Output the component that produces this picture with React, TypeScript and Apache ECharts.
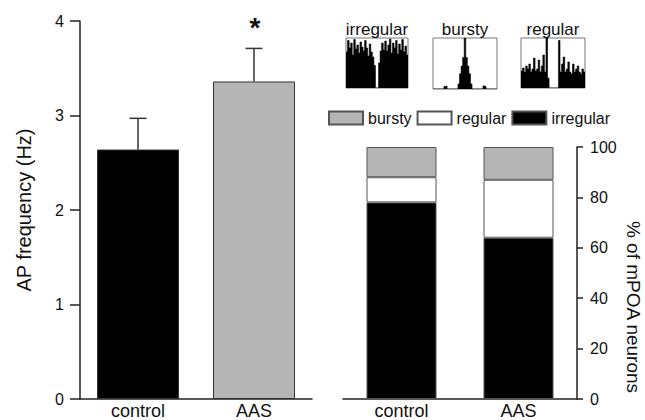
import React, { useEffect, useRef } from "react";
import * as echarts from "echarts";

const groups = ["control", "AAS"];
const apFreqMean = [2.64, 3.36];
const apFreqUpper = [2.97, 3.71];
const leftTickMax = 4;

const pctIrregular = [78, 64];
const pctRegular = [10, 23];
const pctBursty = [12, 13];
const rightTickMax = 100;

const histIrregular = [
  0.72, 0.95, 0.8, 0.9, 0.66, 0.97, 0.78, 0.86, 0.7, 0.92, 0.82, 0.74, 0.95, 0.8,
  0.64, 0.88, 0.72, 0.62, 0.45, 0.0, 0.0, 0.5, 0.74, 0.9, 0.76, 0.94, 0.74, 0.86,
  0.98, 0.7, 0.9, 0.8, 0.95, 0.68, 0.88, 0.76, 0.97, 0.72, 0.84, 0.66,
];
const histBursty = [
  0, 0, 0, 0, 0, 0, 0, 0.05, 0.06, 0, 0, 0, 0, 0, 0, 0, 0.1, 0.3, 0.45, 0.62, 1.0,
  0.62, 0.45, 0.3, 0.1, 0, 0, 0, 0, 0, 0, 0, 0.06, 0.05, 0, 0, 0, 0, 0, 0, 0,
];
const histRegular = [
  0.34, 0.4, 0.32, 0.44, 0.38, 0.48, 0.32, 0.38, 0.6, 0.34, 0.38, 0.56, 0.32, 0.44,
  0.66, 0.32, 1.0, 0.2, 0, 0, 0, 0, 0, 0, 0.95, 0.32, 0.48, 0.62, 0.32, 0.38, 0.52,
  0.32, 0.28, 0.48, 0.32, 0.38, 0.44, 0.32, 0.28, 0.38, 0.32,
];
const insetTitles = ["irregular", "bursty", "regular"];
const rightAxisTitle = "% of mPOA neurons";

const FONT = "'Liberation Sans', Arial, Helvetica, sans-serif";
const AXIS = "#222";

export default function App() {
  const ref = useRef<HTMLDivElement>(null);
  useEffect(() => {
    if (!ref.current) return;
    const chart = echarts.init(ref.current, undefined, { renderer: "svg" });

    const insetGrids = [
      { left: 346, top: 38, width: 62, height: 50 },
      { left: 433, top: 38, width: 64, height: 51 },
      { left: 521, top: 38, width: 64, height: 50 },
    ];
    const hists = [histIrregular, histBursty, histRegular];
    // step points: bin k covers [k, k+1]
    const stepData = (h: number[]) => [...h.map((v, k) => [k, v]), [h.length, h[h.length - 1]]];

    const option: any = {
      animation: false,
      textStyle: { fontFamily: FONT },
      grid: [
        { left: 80, top: 21, width: 232, height: 379 },
        { left: 343, top: 147, width: 234, height: 253 },
        ...insetGrids.map((g) => ({
          ...g,
          show: true,
          borderColor: "#777",
          borderWidth: 1,
          backgroundColor: "#fff",
        })),
      ],
      legend: {
        data: ["bursty", "regular", "irregular"],
        left: 328,
        top: 110,
        padding: 0,
        itemWidth: 34,
        itemHeight: 13,
        itemGap: 5,
        icon: "rect",
        textStyle: { fontSize: 16, color: "#111", fontFamily: FONT },
        selectedMode: false,
      },
      xAxis: [
        {
          gridIndex: 0,
          type: "category",
          data: groups,
          axisLine: { lineStyle: { color: AXIS, width: 1.5 } },
          axisTick: { show: false },
          axisLabel: { fontSize: 18, color: "#111", margin: 3 },
        },
        {
          gridIndex: 1,
          type: "category",
          data: groups,
          axisLine: { lineStyle: { color: AXIS, width: 1.5 } },
          axisTick: { show: false },
          axisLabel: { fontSize: 18, color: "#111", margin: 3 },
        },
        ...hists.map((h, i) => ({
          gridIndex: 2 + i,
          type: "value",
          min: 0,
          max: h.length,
          show: false,
        })),
      ],
      yAxis: [
        {
          gridIndex: 0,
          type: "value",
          min: 0,
          max: leftTickMax,
          interval: 1,
          name: "AP frequency (Hz)",
          nameLocation: "middle",
          nameGap: 46,
          nameTextStyle: { fontSize: 20, color: "#111" },
          axisLine: { show: true, lineStyle: { color: AXIS, width: 1.5 } },
          axisTick: { show: true, length: 10, lineStyle: { color: AXIS, width: 1.5 } },
          axisLabel: { fontSize: 16, color: "#111", margin: 16 },
          splitLine: { show: false },
        },
        {
          gridIndex: 1,
          type: "value",
          position: "right",
          min: 0,
          max: rightTickMax,
          interval: 20,
          axisLine: { show: true, lineStyle: { color: AXIS, width: 1.5 } },
          axisTick: { show: true, length: 6, lineStyle: { color: AXIS, width: 1.5 } },
          axisLabel: { fontSize: 16, color: "#111", margin: 13 },
          splitLine: { show: false },
        },
        ...hists.map((_, i) => ({
          gridIndex: 2 + i,
          type: "value",
          min: 0,
          max: 1,
          show: false,
        })),
      ],
      series: [
        {
          type: "bar",
          xAxisIndex: 0,
          yAxisIndex: 0,
          barWidth: 82,
          data: apFreqMean.map((v, i) => ({
            value: v,
            itemStyle: {
              color: i === 0 ? "#000" : "#b5b5b5",
              borderColor: "#333",
              borderWidth: 1,
            },
          })),
          z: 2,
        },
        {
          type: "custom",
          xAxisIndex: 0,
          yAxisIndex: 0,
          data: apFreqMean.map((m, i) => [i, m, apFreqUpper[i]]),
          renderItem: (params: any, api: any) => {
            const x = api.value(0);
            const base = api.coord([x, api.value(1)]);
            const top = api.coord([x, api.value(2)]);
            const half = 8.5;
            const style = { stroke: "#333", lineWidth: 1.5 };
            return {
              type: "group",
              children: [
                { type: "line", shape: { x1: base[0], y1: base[1], x2: top[0], y2: top[1] }, style },
                { type: "line", shape: { x1: top[0] - half, y1: top[1], x2: top[0] + half, y2: top[1] }, style },
              ],
            };
          },
          z: 1,
        },
        {
          name: "irregular",
          type: "bar",
          stack: "pct",
          xAxisIndex: 1,
          yAxisIndex: 1,
          barWidth: 70,
          data: pctIrregular,
          itemStyle: { color: "#000", borderColor: "#555", borderWidth: 1 },
        },
        {
          name: "regular",
          type: "bar",
          stack: "pct",
          xAxisIndex: 1,
          yAxisIndex: 1,
          barWidth: 70,
          data: pctRegular,
          itemStyle: { color: "#fff", borderColor: "#555", borderWidth: 1 },
        },
        {
          name: "bursty",
          type: "bar",
          stack: "pct",
          xAxisIndex: 1,
          yAxisIndex: 1,
          barWidth: 70,
          data: pctBursty,
          itemStyle: { color: "#b5b5b5", borderColor: "#555", borderWidth: 1 },
        },
        ...hists.map((h, i) => ({
          type: "line",
          xAxisIndex: 2 + i,
          yAxisIndex: 2 + i,
          step: "end",
          showSymbol: false,
          symbol: "none",
          data: stepData(h),
          lineStyle: { color: "#000", width: 0.6 },
          areaStyle: { color: "#000", opacity: 1 },
          silent: true,
        })),
      ],
      graphic: [
        {
          type: "text",
          x: 255,
          y: 13,
          style: { text: "*", fill: "#111", align: "center", font: `bold 28px ${FONT}` },
        },
        {
          type: "text",
          x: 633,
          y: 307,
          rotation: -Math.PI / 2,
          style: {
            text: rightAxisTitle,
            fill: "#111",
            align: "center",
            verticalAlign: "middle",
            font: `19px ${FONT}`,
          },
        },
        ...insetTitles.map((t, i) => ({
          type: "text",
          x: insetGrids[i].left + insetGrids[i].width / 2,
          y: 21,
          style: { text: t, align: "center", fill: "#111", font: `17px ${FONT}` },
        })),
      ],
    };
    chart.setOption(option);
    return () => chart.dispose();
  }, []);
  return <div ref={ref} style={{ width: 645, height: 420, position: "absolute", left: 0, top: 0 }} />;
}
